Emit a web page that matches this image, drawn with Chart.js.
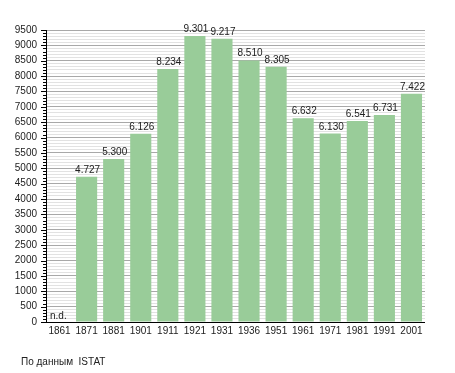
<!DOCTYPE html>
<html><head><meta charset="utf-8">
<script src="https://cdn.jsdelivr.net/npm/chart.js@4/dist/chart.umd.min.js"></script>
<style>html,body{margin:0;padding:0;background:#fff;}#wrap{width:455px;height:373px;position:relative;}</style>
</head><body><div id="wrap"><canvas id="c" width="455" height="373"></canvas></div>
<script>
const years = ["1861","1871","1881","1901","1911","1921","1931","1936","1951","1961","1971","1981","1991","2001"];
const population = [null,4727,5300,6126,8234,9301,9217,8510,8305,6632,6130,6541,6731,7422];
const valueLabels = ["n.d.","4.727","5.300","6.126","8.234","9.301","9.217","8.510","8.305","6.632","6.130","6.541","6.731","7.422"];
const sourceNote = "По данным  ISTAT";
const FONT = "'Liberation Sans', Arial, sans-serif";

const overlay = {
  id: 'overlay',
  afterDatasetsDraw(chart) {
    const ctx = chart.ctx, y = chart.scales.y, ca = chart.chartArea;
    const meta = chart.getDatasetMeta(0);
    ctx.save();
    // y axis line
    ctx.strokeStyle = '#000'; ctx.lineWidth = 1;
    ctx.beginPath(); ctx.moveTo(ca.left + 0.5, ca.top); ctx.lineTo(ca.left + 0.5, ca.bottom); ctx.stroke();
    // ticks
    for (let v = 0; v <= 9500; v += 100) {
      const py = Math.round(y.getPixelForValue(v)) + 0.5;
      const len = (v % 500 === 0) ? 5 : 3;
      ctx.beginPath(); ctx.moveTo(ca.left - len, py); ctx.lineTo(ca.left, py); ctx.stroke();
    }
    // baseline
    const by = Math.round(y.getPixelForValue(0)) + 0.5;
    ctx.beginPath(); ctx.moveTo(ca.left, by); ctx.lineTo(ca.right, by); ctx.stroke();
    // value labels
    ctx.fillStyle = '#222'; ctx.font = '10px ' + FONT;
    meta.data.forEach((bar, i) => {
      if (population[i] == null) {
        ctx.textAlign = 'left'; ctx.textBaseline = 'alphabetic';
        ctx.fillText(valueLabels[i], ca.left + 4, by - 4);
      } else {
        ctx.textAlign = 'center'; ctx.textBaseline = 'alphabetic';
        ctx.fillText(valueLabels[i], bar.x + 1, bar.y - 4);
      }
    });
    // source note
    ctx.textAlign = 'left'; ctx.textBaseline = 'middle'; ctx.fillStyle = '#222';
    ctx.fillText(sourceNote, 21, 362);
    ctx.restore();
  }
};

new Chart(document.getElementById('c'), {
  type: 'bar',
  data: { labels: years, datasets: [{ data: population, backgroundColor: '#99cc99', borderWidth: 0,
    barPercentage: 0.78, categoryPercentage: 1.0 }] },
  options: {
    responsive: false, animation: false, devicePixelRatio: 1,
    layout: { padding: { top: 30, right: 30, left: 0, bottom: 0 } },
    plugins: { legend: { display: false }, tooltip: { enabled: false } },
    scales: {
      x: {
        grid: { display: false, drawTicks: false },
        border: { display: false },
        ticks: { color: '#222', font: { size: 10, family: FONT }, padding: 3, maxRotation: 0, autoSkip: false },
        afterFit(s) { s.height = 51; }
      },
      y: {
        min: 0, max: 9500,
        border: { display: false },
        grid: { drawTicks: false,
          color: c => (c.tick && c.tick.value % 500 === 0) ? '#a8a8a8' : '#e2e2e2',
          lineWidth: 1 },
        ticks: { stepSize: 100, autoSkip: false, color: '#222', font: { size: 10, family: FONT }, padding: 9,
          callback: v => (v % 500 === 0) ? String(v) : '' },
        afterFit(s) { s.width = 46; }
      }
    }
  },
  plugins: [overlay]
});
</script></body></html>
